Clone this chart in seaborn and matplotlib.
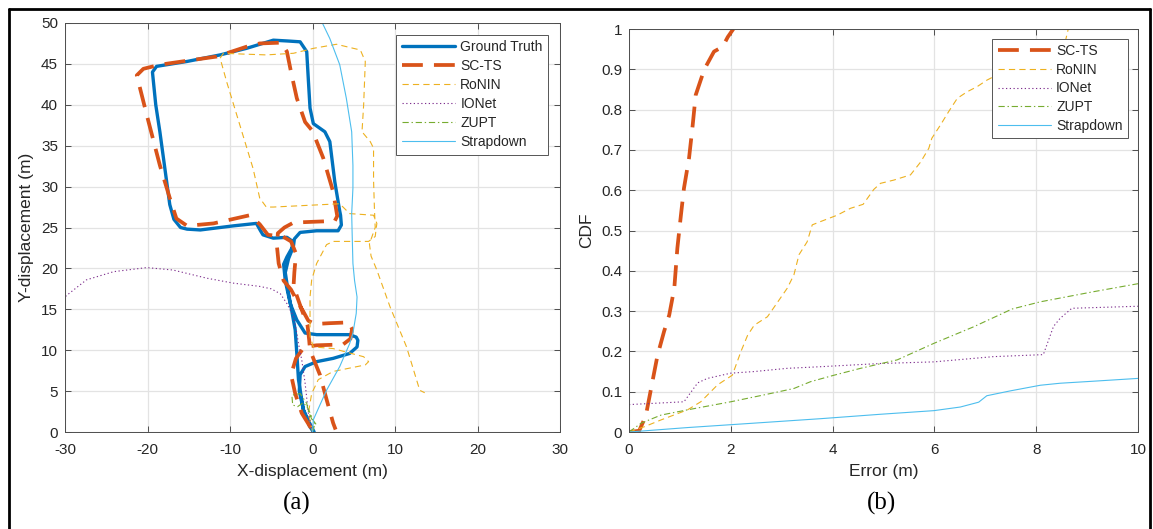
import numpy as np
import matplotlib
matplotlib.use("Agg")
import matplotlib.pyplot as plt
from matplotlib.lines import Line2D
from matplotlib.ticker import FuncFormatter
import seaborn as sns

# ---------------- trajectories (metres) ----------------
gt_x = [0.2, -0.4, -1.1, -1.6, -1.5, -0.9, 0.5, 2.5, 4.5, 5.4, 5.5, 5.3, 4.5, 2.5, 0.5, -0.9,
        -1.9, -2.7, -3.3, -3.5, -3.1, -2.6, -2.3, -2.2, -1.5, 0.5, 3.1, 3.5, 3.4, 3.3, 2.7,
        2.1, 1.5, 0.1, -0.3, -0.5, -0.7, -1.5, -3.0, -4.75, -8.0, -11.2, -15.2, -18.9, -19.4,
        -19.0, -18.5, -17.3, -16.8, -16.0, -15.2, -13.6, -9.6, -6.8, -6.3, -6.0, -4.75, -3.1,
        -2.4, -2.5, -2.9, -3.3, -3.0, -2.6, -2.1, -1.9, -1.7, -1.1, -0.4, 0.1]
gt_y = [0.0, 1.2, 2.7, 5.0, 7.0, 8.0, 8.6, 9.0, 9.6, 10.4, 11.2, 11.6, 11.9, 11.9, 11.9, 12.1,
        13.7, 15.7, 18.5, 20.5, 21.4, 22.3, 22.8, 23.6, 24.4, 24.6, 24.6, 25.3, 26.5, 27.0,
        30.6, 35.5, 36.7, 37.7, 39.6, 43.0, 46.5, 47.7, 47.8, 47.9, 46.9, 46.1, 45.3, 44.7,
        44.0, 40.0, 36.7, 27.8, 26.0, 25.0, 24.8, 24.7, 25.2, 25.5, 24.6, 24.1, 23.7, 23.8,
        23.3, 22.2, 21.2, 19.5, 17.5, 15.3, 12.5, 9.6, 6.4, 2.7, 0.8, 0.0]

scts_x = [-0.2, -1.3, -2.1, -2.6, -2.0, -1.0, 0.5, 3.7, 4.6, 4.8, 4.4, 2.0, 0.3, -0.5, -1.1,
          -1.7, -2.6, -3.5, -4.1, -4.3, -4.2, -3.4, -2.3, 0.1, 2.7, 3.0, 2.5, 1.3, 0.0, -0.9,
          -1.9, -2.6, -3.1, -3.8, -6.4, -8.0, -11.6, -14.4, -18.5, -20.5, -21.3, -20.9, -20.1,
          -18.5, -17.3, -16.5, -15.2, -12.0, -7.6, -6.4, -5.4, -3.6, -2.6, -2.0, -2.2, -2.3,
          -1.5, -0.6, -0.4, -0.3, 0.5, 0.9, 1.7, 2.5, 2.8]
scts_y = [0.5, 2.3, 4.7, 7.0, 9.0, 10.4, 10.6, 10.7, 11.4, 12.6, 13.4, 13.3, 13.2, 13.6, 14.7,
          15.7, 17.4, 18.5, 20.6, 22.6, 24.3, 25.0, 25.6, 25.7, 25.8, 26.4, 29.4, 33.5, 36.8,
          37.9, 40.8, 44.0, 46.5, 47.6, 47.5, 47.1, 45.9, 45.5, 44.9, 44.4, 43.6, 42.0, 38.8,
          32.6, 28.6, 26.1, 25.2, 25.5, 26.5, 25.4, 24.1, 23.9, 23.3, 21.8, 19.5, 17.8, 15.5,
          13.0, 11.2, 10.0, 8.0, 7.0, 4.0, 1.1, 0.3]

ronin_x = [0.0, -0.5, -0.1, 0.7, 2.5, 6.4, 6.8, 6.2, 2.5, 0.1, -0.3, -0.3, -0.1, 0.5, 1.7, 2.5,
           6.8, 7.6, 7.8, 7.4, 4.5, 3.7, 3.3, -4.75, -5.6, -6.4, -7.2, -8.8, -10.4, -11.2, -10.8,
           -8.4, -5.6, -2.3, 0.1, 2.9, 5.8, 6.4, 6.2, 6.0, 7.0, 7.4, 7.4, 7.5, 7.6, 6.9, 7.1,
           7.8, 9.4, 11.4, 13.0, 13.6]
ronin_y = [0.0, 2.3, 4.7, 6.4, 7.4, 8.2, 8.6, 9.2, 10.2, 10.4, 11.7, 16.5, 18.6, 20.6, 22.9,
           23.3, 23.3, 23.9, 25.5, 26.5, 26.7, 27.5, 27.9, 27.5, 27.5, 28.6, 32.2, 37.5, 42.8,
           45.7, 46.3, 46.2, 46.1, 46.3, 46.9, 47.4, 46.7, 45.3, 40.0, 36.7, 35.5, 34.7, 30.8,
           27.5, 25.0, 23.0, 21.5, 19.8, 15.3, 10.4, 5.1, 4.8]

ionet_x = [0.0, -0.5, -0.9, -1.3, -1.7, -1.9, -2.3, -3.1, -3.9, -5.0, -6.4, -9.6, -12.8, -16.9,
           -20.1, -24.1, -27.4, -29.8, -31.0]
ionet_y = [0.0, 2.3, 6.0, 8.8, 10.8, 12.1, 14.1, 15.7, 16.9, 17.5, 17.8, 18.2, 18.8, 19.8,
           20.1, 19.6, 18.6, 16.7, 15.5]

zupt_x = [0.0, 0.3, -0.1, -0.5, -0.7, -1.5, -2.5, -2.4, -1.8, -1.1, -0.5, 0.1, 0.6]
zupt_y = [0.0, 1.0, 1.6, 2.5, 3.5, 4.7, 4.5, 3.3, 3.1, 3.6, 2.8, 1.4, 0.7]

strap_x = [0.0, 0.1, 1.7, 3.3, 4.5, 4.9, 5.3, 5.4, 5.1, 4.9, 4.8, 4.75, 4.9, 4.9, 4.75, 4.1,
           3.3, 2.1, 1.1, 0.8]
strap_y = [0.0, 1.5, 5.1, 8.0, 10.8, 12.1, 14.5, 16.5, 18.5, 20.6, 24.5, 26.7, 29.8, 32.6,
           36.7, 40.8, 44.9, 48.1, 50.2, 51.0]

# ---------------- error CDFs ----------------
err_scts = [0.0, 0.2, 0.33, 0.46, 0.56, 0.69, 0.79, 0.89, 0.95, 1.02, 1.08, 1.18, 1.25, 1.31,
            1.40, 1.48, 1.67, 1.84, 1.94, 2.05]
cdf_scts = [0.0, 0.003, 0.04, 0.125, 0.19, 0.25, 0.29, 0.357, 0.456, 0.538, 0.605, 0.68, 0.76,
            0.836, 0.87, 0.90, 0.944, 0.956, 0.98, 1.0]

err_ronin = [0.0, 0.3, 0.63, 1.15, 1.41, 1.74, 2.03, 2.2, 2.33, 2.46, 2.72, 2.88, 3.11, 3.24,
             3.34, 3.5, 3.6, 3.76, 4.09, 4.35, 4.6, 4.81, 4.94, 5.2, 5.53, 5.73, 5.89, 5.95,
             6.12, 6.28, 6.45, 6.64, 6.84, 7.03, 7.23, 7.55, 7.95, 8.21, 8.47, 8.57, 8.63]
cdf_ronin = [0.0, 0.013, 0.03, 0.055, 0.075, 0.117, 0.141, 0.2, 0.24, 0.265, 0.286, 0.315,
             0.357, 0.39, 0.44, 0.472, 0.514, 0.522, 0.538, 0.555, 0.565, 0.602, 0.617, 0.625,
             0.638, 0.67, 0.704, 0.729, 0.762, 0.795, 0.828, 0.844, 0.857, 0.873, 0.886,
             0.894, 0.902, 0.911, 0.935, 0.968, 1.0]

err_ionet = [0.0, 1.08, 1.35, 1.54, 2.0, 2.46, 3.11, 3.76, 4.94, 5.99, 7.16, 8.14, 8.34, 8.47,
             8.7, 10.0]
cdf_ionet = [0.068, 0.075, 0.122, 0.133, 0.146, 0.15, 0.158, 0.162, 0.17, 0.174, 0.187, 0.192,
             0.262, 0.282, 0.307, 0.312]

err_zupt = [0.0, 0.24, 0.63, 1.15, 2.0, 2.65, 3.24, 3.57, 4.03, 4.55, 5.27, 5.99, 6.77, 7.42,
            7.52, 8.08, 9.12, 10.0]
cdf_zupt = [0.0, 0.022, 0.042, 0.055, 0.075, 0.092, 0.108, 0.125, 0.141, 0.158, 0.179, 0.22,
            0.261, 0.299, 0.305, 0.323, 0.348, 0.368]

err_strap = [0.0, 1.15, 2.46, 3.76, 4.94, 5.99, 6.51, 6.87, 7.03, 7.49, 8.08, 8.47, 9.12, 10.0]
cdf_strap = [0.0, 0.011, 0.022, 0.033, 0.044, 0.053, 0.062, 0.074, 0.09, 0.102, 0.116, 0.121,
             0.126, 0.133]

traj_labels = ["Ground Truth", "SC-TS", "RoNIN", "IONet", "ZUPT", "Strapdown"]
x_ticks = [-30, -20, -10, 0, 10, 20, 30]
y_ticks = [0, 5, 10, 15, 20, 25, 30, 35, 40, 45, 50]
err_ticks = [0, 2, 4, 6, 8, 10]
cdf_ticks = [0, 0.1, 0.2, 0.3, 0.4, 0.5, 0.6, 0.7, 0.8, 0.9, 1.0]

# ---------------- styling ----------------
sns.set_theme(style="ticks")
plt.rcParams.update({
    "font.family": ["Liberation Sans", "DejaVu Sans"],
    "axes.unicode_minus": False,
    "lines.scale_dashes": False,
    "axes.edgecolor": "#4d4d4d",
    "axes.linewidth": 0.7,
    "xtick.direction": "in",
    "ytick.direction": "in",
    "xtick.top": True,
    "ytick.right": True,
    "xtick.color": "#4d4d4d",
    "ytick.color": "#4d4d4d",
    "xtick.labelcolor": "#262626",
    "ytick.labelcolor": "#262626",
    "xtick.major.size": 4,
    "ytick.major.size": 4,
    "xtick.major.width": 0.7,
    "ytick.major.width": 0.7,
    "xtick.labelsize": 11,
    "ytick.labelsize": 11,
    "axes.labelsize": 12.5,
    "axes.labelcolor": "#262626",
})

styles = {
    "Ground Truth": dict(color="#0072BD", lw=2.4, linestyle="-"),
    "SC-TS": dict(color="#D95319", lw=2.7, linestyle=(0, (15, 8))),
    "RoNIN": dict(color="#EDB120", lw=0.8, linestyle=(0, (4.5, 3))),
    "IONet": dict(color="#7E2F8E", lw=0.8, linestyle=(0, (0.9, 1.8))),
    "ZUPT": dict(color="#77AC30", lw=0.8, linestyle=(0, (4.5, 2, 1, 2))),
    "Strapdown": dict(color="#4DBEEE", lw=0.8, linestyle="-"),
}

W, H = 1153, 529
fig = plt.figure(figsize=(W / 100, H / 100), dpi=100)
ax1 = fig.add_axes([65 / W, 1 - 432 / H, (560 - 65) / W, (432 - 23) / H])
ax2 = fig.add_axes([629 / W, 1 - 432 / H, (1138 - 629) / W, (432 - 29) / H])

grid_kw = dict(color="#e3e3e3", lw=0.9)
legend_kw = dict(loc="upper right", fontsize=10, handlelength=3.8, fancybox=False,
                 framealpha=1, edgecolor="#555555", borderpad=0.4, handletextpad=0.4)

# ---------- (a) trajectories ----------
traj = [(gt_x, gt_y), (scts_x, scts_y), (ronin_x, ronin_y),
        (ionet_x, ionet_y), (zupt_x, zupt_y), (strap_x, strap_y)]
for name, (xs, ys) in zip(traj_labels, traj):
    sns.lineplot(x=xs, y=ys, sort=False, estimator=None, ax=ax1, label=name,
                 **styles[name])
ax1.set_xlim(-30, 30)
ax1.set_ylim(0, 50)
ax1.set_xticks(x_ticks)
ax1.set_yticks(y_ticks)
ax1.grid(True, **grid_kw)
ax1.set_axisbelow(True)
ax1.set_xlabel("X-displacement (m)", labelpad=5)
ax1.set_ylabel("Y-displacement (m)", labelpad=5)
ax1.tick_params(axis="x", pad=8)
ax1.tick_params(axis="y", pad=5)
leg1 = ax1.legend(labelspacing=0.36, borderaxespad=0.85, **legend_kw)
leg1.get_frame().set_linewidth(0.7)

# ---------- (b) error CDF ----------
cdf = [(err_scts, cdf_scts), (err_ronin, cdf_ronin), (err_ionet, cdf_ionet),
       (err_zupt, cdf_zupt), (err_strap, cdf_strap)]
for name, (xs, ys) in zip(traj_labels[1:], cdf):
    sns.lineplot(x=xs, y=ys, sort=False, estimator=None, ax=ax2, label=name,
                 **styles[name])
ax2.set_xlim(0, 10)
ax2.set_ylim(0, 1)
ax2.set_xticks(err_ticks)
ax2.set_yticks(cdf_ticks)
ax2.yaxis.set_major_formatter(FuncFormatter(lambda v, p: f"{v:g}"))
ax2.grid(True, **grid_kw)
ax2.set_axisbelow(True)
ax2.set_xlabel("Error (m)", labelpad=5)
ax2.set_ylabel("CDF", labelpad=5)
ax2.tick_params(axis="x", pad=8)
ax2.tick_params(axis="y", pad=5)
leg2 = ax2.legend(labelspacing=0.33, borderaxespad=0.7, **legend_kw)
leg2.get_frame().set_linewidth(0.7)

# sub-figure captions
fig.text(297 / W, 1 - 503 / H, "(a)", ha="center", va="center", fontsize=18,
         family=["Liberation Serif", "DejaVu Serif"], color="black")
fig.text(882 / W, 1 - 503 / H, "(b)", ha="center", va="center", fontsize=18,
         family=["Liberation Serif", "DejaVu Serif"], color="black")

# outer frame (open at the bottom edge)
fx0, fx1, fy1 = 9 / W, 1150 / W, 1 - 9 / H
for xs, ys in [([fx0, fx0], [-0.01, fy1]), ([fx0, fx1], [fy1, fy1]), ([fx1, fx1], [fy1, -0.01])]:
    fig.add_artist(Line2D(xs, ys, transform=fig.transFigure, color="black", lw=2.0))

fig.savefig("out.png", dpi=100)
